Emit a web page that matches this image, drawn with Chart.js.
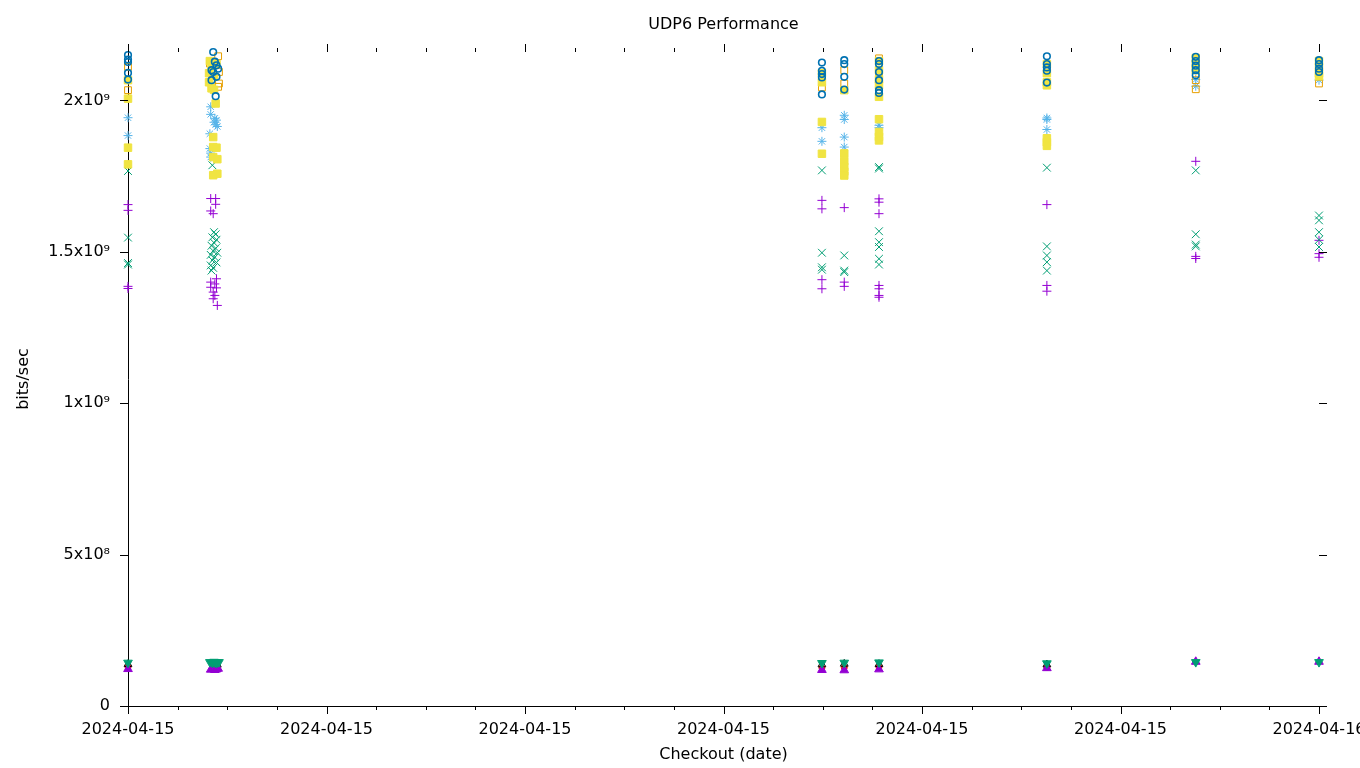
<!DOCTYPE html>
<html>
<head>
<meta charset="utf-8">
<title>UDP6 Performance</title>
<script src="https://cdn.jsdelivr.net/npm/chart.js@4.4.1/dist/chart.umd.min.js"></script>
<style>
  html, body { margin: 0; padding: 0; background: #fff; overflow: hidden; }
  #wrap { width: 1400px; height: 768px; }
</style>
</head>
<body>
<div id="wrap"><canvas id="grafico-udp6" width="1400" height="768"></canvas></div>
<script>
// dia do checkout e limites do eixo x
const dia = '2024-04-15';
const fimDia = '24:00';
const passoTick = 1;      // horas entre ticks
const passoRotulo = 4;    // horas entre rotulos
const ticksY = [0, 5e8, 1e9, 1.5e9, 2e9];
const maxY = 2.16e9;

// cada serie: [hora do checkout, bits/sec]
const serieCruz = [
  ['00:00', 1.656e9], ['00:00', 1.637e9], ['00:00', 1.386e9], ['00:00', 1.379e9],
  ['01:40', 1.676e9], ['01:46', 1.676e9], ['01:46', 1.657e9], ['01:40', 1.635e9], ['01:43', 1.626e9],
  ['01:47', 1.411e9], ['01:40', 1.400e9], ['01:45', 1.394e9], ['01:40', 1.383e9], ['01:47', 1.381e9],
  ['01:43', 1.367e9], ['01:45', 1.356e9], ['01:43', 1.345e9], ['01:48', 1.323e9],
  ['13:59', 1.670e9], ['13:59', 1.642e9], ['13:59', 1.408e9], ['13:59', 1.378e9],
  ['14:26', 1.646e9], ['14:26', 1.400e9], ['14:26', 1.386e9],
  ['15:08', 1.675e9], ['15:08', 1.664e9], ['15:08', 1.626e9], ['15:08', 1.389e9], ['15:08', 1.378e9],
  ['15:08', 1.356e9], ['15:08', 1.350e9],
  ['18:31', 1.656e9], ['18:31', 1.389e9], ['18:31', 1.370e9],
  ['21:31', 1.799e9], ['21:31', 1.485e9], ['21:31', 1.478e9],
  ['24:00', 1.538e9], ['24:00', 1.494e9], ['24:00', 1.482e9]
];

const serieX = [
  ['00:00', 1.767e9], ['00:00', 1.547e9], ['00:00', 1.463e9], ['00:00', 1.458e9],
  ['01:42', 1.786e9], ['01:44', 1.565e9], ['01:46', 1.558e9], ['01:42', 1.548e9], ['01:47', 1.540e9],
  ['01:44', 1.530e9], ['01:41', 1.520e9], ['01:46', 1.512e9], ['01:43', 1.503e9], ['01:48', 1.497e9],
  ['01:40', 1.490e9], ['01:45', 1.482e9], ['01:42', 1.472e9], ['01:47', 1.465e9], ['01:40', 1.455e9],
  ['01:43', 1.447e9], ['01:41', 1.438e9],
  ['13:59', 1.769e9], ['13:59', 1.497e9], ['13:59', 1.449e9], ['13:59', 1.441e9],
  ['14:26', 1.488e9], ['14:26', 1.438e9], ['14:26', 1.433e9],
  ['15:08', 1.780e9], ['15:08', 1.775e9], ['15:08', 1.568e9], ['15:08', 1.532e9], ['15:08', 1.516e9],
  ['15:08', 1.477e9], ['15:08', 1.458e9],
  ['18:31', 1.778e9], ['18:31', 1.518e9], ['18:31', 1.488e9], ['18:31', 1.466e9], ['18:31', 1.438e9],
  ['21:31', 1.769e9], ['21:31', 1.558e9], ['21:31', 1.524e9], ['21:31', 1.518e9],
  ['24:00', 1.620e9], ['24:00', 1.604e9], ['24:00', 1.565e9], ['24:00', 1.540e9], ['24:00', 1.516e9]
];

const serieEstrela = [
  ['00:00', 1.943e9], ['00:00', 1.884e9],
  ['01:40', 1.979e9], ['01:40', 1.954e9], ['01:45', 1.941e9], ['01:47', 1.935e9], ['01:44', 1.928e9],
  ['01:46', 1.920e9], ['01:48', 1.914e9], ['01:39', 1.890e9], ['01:39', 1.841e9], ['01:40', 1.826e9],
  ['01:40', 1.813e9],
  ['13:59', 1.910e9], ['13:59', 1.865e9],
  ['14:26', 1.951e9], ['14:26', 1.937e9], ['14:26', 1.879e9], ['14:26', 1.846e9],
  ['15:08', 1.918e9], ['15:08', 1.910e9],
  ['18:31', 1.942e9], ['18:31', 1.937e9], ['18:31', 1.904e9],
  ['21:31', 2.069e9], ['21:31', 2.047e9],
  ['24:00', 2.067e9]
];

const serieQuadrado = [
  ['00:00', 2.111e9], ['00:00', 2.034e9],
  ['01:49', 2.146e9], ['01:39', 2.122e9], ['01:50', 2.094e9], ['01:50', 2.056e9], ['01:49', 2.045e9],
  ['13:59', 2.043e9],
  ['14:26', 2.100e9], ['14:26', 2.056e9],
  ['15:08', 2.139e9], ['15:08', 2.089e9], ['15:08', 2.023e9],
  ['18:31', 2.100e9],
  ['21:31', 2.067e9], ['21:31', 2.037e9],
  ['24:00', 2.089e9], ['24:00', 2.056e9]
];

const serieQuadradoCheio = [
  ['00:00', 2.067e9], ['00:00', 2.006e9], ['00:00', 1.844e9], ['00:00', 1.789e9],
  ['01:39', 2.130e9], ['01:41', 2.110e9], ['01:47', 2.120e9], ['01:38', 2.090e9], ['01:44', 2.080e9],
  ['01:38', 2.060e9], ['01:41', 2.040e9], ['01:44', 2.035e9], ['01:46', 1.990e9], ['01:43', 1.879e9],
  ['01:43', 1.846e9], ['01:47', 1.844e9], ['01:43', 1.813e9], ['01:48', 1.806e9], ['01:48', 1.758e9],
  ['01:43', 1.753e9],
  ['13:59', 2.090e9], ['13:59', 2.060e9], ['13:59', 1.929e9], ['13:59', 1.824e9],
  ['14:26', 2.034e9], ['14:26', 1.825e9], ['14:26', 1.800e9], ['14:26', 1.780e9], ['14:26', 1.765e9],
  ['14:26', 1.752e9],
  ['15:08', 2.130e9], ['15:08', 2.100e9], ['15:08', 2.070e9], ['15:08', 2.050e9], ['15:08', 2.012e9],
  ['15:08', 1.938e9], ['15:08', 1.896e9], ['15:08', 1.880e9], ['15:08', 1.868e9],
  ['18:31', 2.120e9], ['18:31', 2.090e9], ['18:31', 2.060e9], ['18:31', 2.050e9], ['18:31', 1.875e9],
  ['18:31', 1.862e9], ['18:31', 1.850e9],
  ['21:31', 2.140e9], ['21:31', 2.120e9], ['21:31', 2.100e9],
  ['24:00', 2.130e9], ['24:00', 2.110e9], ['24:00', 2.090e9], ['24:00', 2.080e9]
];

const serieCirculo = [
  ['00:00', 2.150e9], ['00:00', 2.135e9], ['00:00', 2.127e9], ['00:00', 2.091e9], ['00:00', 2.069e9],
  ['01:43', 2.160e9], ['01:45', 2.128e9], ['01:47', 2.116e9], ['01:41', 2.100e9], ['01:43', 2.094e9],
  ['01:49', 2.105e9], ['01:41', 2.067e9], ['01:47', 2.078e9], ['01:46', 2.014e9],
  ['13:59', 2.125e9], ['13:59', 2.098e9], ['13:59', 2.087e9], ['13:59', 2.076e9], ['13:59', 2.020e9],
  ['14:26', 2.133e9], ['14:26', 2.120e9], ['14:26', 2.078e9], ['14:26', 2.036e9],
  ['15:08', 2.130e9], ['15:08', 2.120e9], ['15:08', 2.094e9], ['15:08', 2.067e9], ['15:08', 2.034e9],
  ['15:08', 2.025e9],
  ['18:31', 2.146e9], ['18:31', 2.120e9], ['18:31', 2.109e9], ['18:31', 2.098e9], ['18:31', 2.059e9],
  ['21:31', 2.144e9], ['21:31', 2.130e9], ['21:31', 2.115e9], ['21:31', 2.100e9], ['21:31', 2.083e9],
  ['24:00', 2.133e9], ['24:00', 2.120e9], ['24:00', 2.105e9], ['24:00', 2.094e9]
];

const serieCirculoCheio = [
  ['00:00', 1.28e8], ['01:43', 1.27e8], ['01:47', 1.29e8], ['13:59', 1.26e8],
  ['14:26', 1.27e8], ['15:08', 1.28e8], ['18:31', 1.28e8]
];

const serieTriangulo = [
  ['00:00', 1.38e8], ['01:44', 1.38e8], ['01:48', 1.36e8], ['13:59', 1.37e8],
  ['14:26', 1.39e8], ['15:08', 1.38e8], ['18:31', 1.37e8]
];

const serieTrianguloCheio = [
  ['00:00', 1.22e8], ['01:40', 1.20e8], ['01:43', 1.22e8], ['01:45', 1.19e8], ['01:47', 1.21e8],
  ['01:49', 1.23e8], ['13:59', 1.19e8], ['14:26', 1.18e8], ['15:08', 1.21e8], ['18:31', 1.25e8],
  ['21:31', 1.46e8], ['24:00', 1.46e8]
];

const serieTrianguloBaixo = [
  ['00:00', 1.43e8], ['01:39', 1.45e8], ['01:42', 1.43e8], ['01:44', 1.46e8], ['01:46', 1.42e8],
  ['01:48', 1.44e8], ['01:50', 1.45e8], ['13:59', 1.42e8], ['14:26', 1.43e8], ['15:08', 1.44e8],
  ['18:31', 1.41e8], ['21:31', 1.45e8], ['24:00', 1.45e8]
];

const HORA = 3600000;
const inicio = Date.parse(dia + 'T00:00:00Z');

function paraMs(hhmm) {
  const [h, m] = hhmm.split(':').map(Number);
  return inicio + h * HORA + m * 60000;
}

function pontos(serie) {
  return serie.map(([t, v]) => ({ x: paraMs(t), y: v }));
}

const sup = { '0': '⁰', '1': '¹', '2': '²', '3': '³', '4': '⁴', '5': '⁵', '6': '⁶', '7': '⁷', '8': '⁸', '9': '⁹' };

function rotuloY(v) {
  if (v === 0) return '0';
  const exp = Math.floor(Math.log10(v));
  const mant = +(v / Math.pow(10, exp)).toFixed(2);
  return mant + 'x10' + String(exp).split('').map(c => sup[c]).join('');
}

// ticks espelhados (topo e direita) e ticks menores, estilo gnuplot
const marcasTicks = {
  id: 'marcasTicks',
  afterDraw(chart) {
    const { ctx, chartArea: a, scales: { x, y } } = chart;
    ctx.save();
    ctx.strokeStyle = '#000';
    ctx.lineWidth = 1;
    ctx.beginPath();
    x.ticks.forEach(t => {
      const px = Math.round(x.getPixelForValue(t.value)) + 0.5;
      const len = (t.value - inicio) % (passoRotulo * HORA) === 0 ? 8 : 4;
      ctx.moveTo(px, a.bottom);
      ctx.lineTo(px, a.bottom + len);
      ctx.moveTo(px, a.top);
      ctx.lineTo(px, a.top - len);
    });
    y.ticks.forEach(t => {
      const py = Math.round(y.getPixelForValue(t.value)) + 0.5;
      ctx.moveTo(a.left, py);
      ctx.lineTo(a.left - 8, py);
      ctx.moveTo(a.right, py);
      ctx.lineTo(a.right + 8, py);
    });
    ctx.stroke();
    ctx.restore();
  }
};

function criarGrafico() {
  const fonte = { family: 'DejaVu Sans', size: 16 };
  const series = [
    { data: serieCruz, cor: '#9400d3', estilo: 'cross', raio: 4.5 },
    { data: serieX, cor: '#009e73', estilo: 'crossRot', raio: 5.5 },
    { data: serieEstrela, cor: '#56b4e9', estilo: 'star', raio: 4.5 },
    { data: serieQuadrado, cor: '#e69f00', estilo: 'rect', raio: 4.8, vazio: true },
    { data: serieQuadradoCheio, cor: '#f0e442', estilo: 'rect', raio: 5.3 },
    { data: serieCirculo, cor: '#0072b2', estilo: 'circle', raio: 3.3, vazio: true, borda: 1.6 },
    { data: serieCirculoCheio, cor: '#e51e10', estilo: 'circle', raio: 3 },
    { data: serieTriangulo, cor: '#000000', estilo: 'triangle', raio: 4.5, vazio: true },
    { data: serieTrianguloCheio, cor: '#9400d3', estilo: 'triangle', raio: 5 },
    { data: serieTrianguloBaixo, cor: '#009e73', estilo: 'triangle', raio: 5, rot: 180 }
  ];

  const ctx = document.getElementById('grafico-udp6').getContext('2d');
  new Chart(ctx, {
    type: 'scatter',
    data: {
      datasets: series.map((s, i) => ({
        data: pontos(s.data),
        order: series.length - i,
        clip: false,
        pointStyle: s.estilo,
        pointRadius: s.raio,
        pointHoverRadius: s.raio,
        pointRotation: s.rot || 0,
        borderColor: s.cor,
        backgroundColor: s.vazio ? 'rgba(0,0,0,0)' : s.cor,
        borderWidth: s.borda || 1,
        showLine: false
      }))
    },
    options: {
      responsive: false,
      animation: false,
      layout: { padding: { left: 0, right: 81, top: 0, bottom: 0 } },
      plugins: {
        legend: { display: false },
        tooltip: { enabled: false },
        title: {
          display: true,
          text: 'UDP6 Performance',
          color: '#000',
          fullSize: false,
          font: { ...fonte, weight: 'normal' },
          padding: { top: 15.4, bottom: 17.4 }
        }
      },
      scales: {
        x: {
          type: 'linear',
          min: inicio,
          max: paraMs(fimDia),
          afterFit: s => { s.height = 62; },
          border: { display: true, color: '#000', width: 1 },
          grid: { display: true, drawOnChartArea: false, drawTicks: false },
          ticks: {
            stepSize: passoTick * HORA,
            autoSkip: false,
            maxRotation: 0,
            padding: 14,
            color: '#000',
            font: fonte,
            callback: v => ((v - inicio) % (passoRotulo * HORA) === 0)
              ? new Date(v).toISOString().slice(0, 10) : ''
          },
          title: {
            display: true,
            text: 'Checkout (date)',
            color: '#000',
            font: fonte,
            padding: { top: 0, bottom: 3.4 }
          }
        },
        y: {
          min: 0,
          max: maxY,
          afterFit: s => { s.width = 128; },
          afterBuildTicks: s => { s.ticks = ticksY.map(v => ({ value: v })); },
          border: { display: true, color: '#000', width: 1 },
          grid: { display: true, drawOnChartArea: false, drawTicks: false },
          ticks: {
            padding: 18,
            color: '#000',
            font: fonte,
            callback: v => rotuloY(v)
          },
          title: {
            display: true,
            text: 'bits/sec',
            color: '#000',
            font: fonte,
            padding: { top: 14.4, bottom: 0 }
          }
        }
      }
    },
    plugins: [marcasTicks]
  });
}

window.addEventListener('load', criarGrafico);
</script>
</body>
</html>
